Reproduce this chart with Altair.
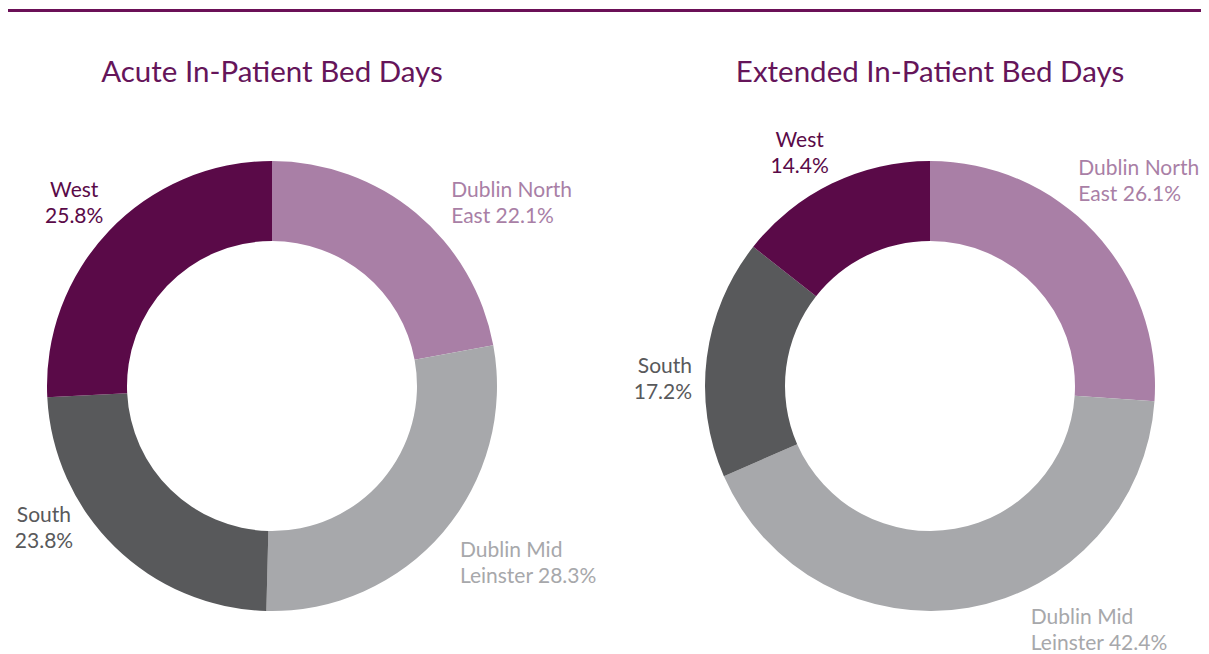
import altair as alt
import pandas as pd

# ---- data ----
regions = ["Dublin North East", "Dublin Mid Leinster", "South", "West"]
acute = [22.1, 28.3, 23.8, 25.8]
extended = [26.1, 42.4, 17.2, 14.4]
titles = ["Acute In-Patient Bed Days", "Extended In-Patient Bed Days"]
label_first = ["Dublin North", "Dublin Mid", "South", "West"]
label_rest = ["East ", "Leinster ", "", ""]

# ---- styles ----
colors = ["#a97fa6", "#a7a8ab", "#58595b", "#5a0a48"]
title_color = "#65155a"
FONT = "Lato"
W, H = 1193, 646
centers = [(264, 378), (922, 378)]
R_OUT, R_IN, R_LAB = 225, 145, 255
# per pie, per region: (align, dx, dy)
label_style = [
    [("left", 16, 7), ("left", -6, 5), ("center", -50, -47), ("center", -13, -13)],
    [("left", -38, -37), ("left", 57, -13), ("right", 15, 19), ("center", -19, -10)],
]


def make_df(values):
    return pd.DataFrame({
        "region": regions,
        "value": values,
        "order": list(range(len(regions))),
        "label": [f"{a}\n{b}{v:.1f}%" for a, b, v in zip(label_first, label_rest, values)],
    })


layers = []
# top rule
layers.append(
    alt.Chart(pd.DataFrame({"a": [0]})).mark_rule(color="#6b1057", strokeWidth=3).encode(
        x=alt.value(-8), x2=alt.value(W + 8), y=alt.value(2.5)
    )
)

for i, vals in enumerate([acute, extended]):
    df = make_df(vals)
    cx, cy = centers[i]
    arc = alt.Chart(df).mark_arc(outerRadius=R_OUT, innerRadius=R_IN).encode(
        theta=alt.Theta("value:Q", stack=True),
        order=alt.Order("order:Q"),
        color=alt.Color("region:N", scale=alt.Scale(domain=regions, range=colors), legend=None),
        x=alt.value(cx),
        y=alt.value(cy),
    )
    layers.append(arc)

    ttl = alt.Chart(pd.DataFrame({"t": [titles[i]]})).mark_text(
        font=FONT, fontSize=29.5, color=title_color, align="center", baseline="alphabetic"
    ).encode(text="t:N", x=alt.value(cx), y=alt.value(74))
    layers.append(ttl)

    for j, reg in enumerate(regions):
        align, dx, dy = label_style[i][j]
        lab = (
            alt.Chart(df)
            .transform_joinaggregate(total="sum(value)")
            .transform_window(cum="sum(value)", sort=[alt.SortField("order")], frame=[None, 0])
            .transform_calculate(mid="2*PI*(datum.cum - datum.value/2)/datum.total")
            .transform_filter(alt.datum.region == reg)
            .mark_text(
                radius=R_LAB, align=align, baseline="alphabetic", dx=dx, dy=dy,
                font=FONT, fontSize=21, lineBreak="\n", lineHeight=26, color=colors[j],
            )
            .encode(
                theta=alt.Theta("mid:Q", scale=None),
                x=alt.value(cx),
                y=alt.value(cy),
                text="label:N",
            )
        )
        layers.append(lab)

chart = (
    alt.layer(*layers)
    .resolve_scale(theta="independent")
    .properties(width=W, height=H, padding=0, autosize=alt.AutoSizeParams(type="none"))
    .configure_view(stroke=None)
)

chart.save("out.html", embed_options={"renderer": "svg", "actions": False})
